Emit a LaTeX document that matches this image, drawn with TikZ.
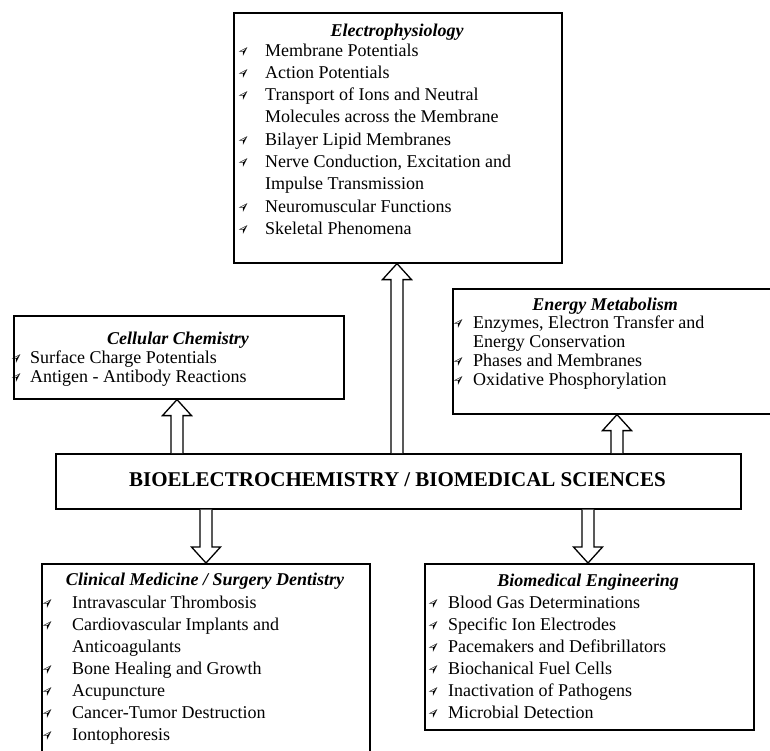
\documentclass[tikz,border=0pt]{standalone}
\usepackage{fontspec}
\usepackage{graphicx}
\setmainfont{Liberation Serif}
\newfontfamily\symf{DejaVu Sans}
\usetikzlibrary{calc}
\newcommand\bul[1]{\leavevmode\llap{\raisebox{1pt}{\symf\fontsize{14}{14}\selectfont\rotatebox[origin=c]{45}{➢}}\hspace{#1}}}
\newcommand\blkarrow[2]{\draw[blockarrow] let \p1=#1, \p2=#2, \p3=($#2!16pt!#1$) in
  (\x1-6pt,\y1) -- (\x1-6pt,\y3) -- (\x1-14.5pt,\y3) -- (\x2,\y2) -- (\x1+14.5pt,\y3) -- (\x1+6pt,\y3) -- (\x1+6pt,\y1);}
\tikzset{
  box/.style={draw=black, line width=1.6pt, rectangle, inner sep=0pt, anchor=north west, fill=white},
  ttl/.style={inner sep=0pt, anchor=base, font=\fontsize{18}{22}\selectfont\bfseries\itshape},
  lst/.style={inner sep=0pt, anchor=base west},
  blockarrow/.style={draw=black, line width=1.3pt, line join=miter, fill=white},
}
\begin{document}
\begin{tikzpicture}[x=1pt,y=-1pt]
\clip (0,0) rectangle (770,750);
\fill[white] (0,0) rectangle (770,750);

% boxes
\node[box, minimum width=328pt, minimum height=250pt] (ep) at (233,12) {};
\node[box, minimum width=330pt, minimum height=83pt] (cell) at (13,315) {};
\node[box, minimum width=340pt, minimum height=125pt] (en) at (452,288) {};
\node[box, minimum width=685pt, minimum height=55pt] (central) at (55,453) {};
\node[box, minimum width=328pt, minimum height=210pt] (clin) at (41,563) {};
\node[box, minimum width=329pt, minimum height=166pt] (bme) at (424,563) {};

% titles
\node[ttl] (ept) at (397,36) {Electrophysiology};
\node[ttl] (cellt) at (178,344) {Cellular Chemistry};
\node[ttl] (ent) at (605,310) {Energy Metabolism};
\node[ttl] (clint) at (205,585) {Clinical Medicine / Surgery Dentistry};
\node[ttl] (bmet) at (588,586) {Biomedical Engineering};
\node[inner sep=0pt, anchor=base, font=\fontsize{21}{24}\selectfont\bfseries] (centralt) at (397.5,486) {BIOELECTROCHEMISTRY / BIOMEDICAL SCIENCES};

% lists
\node[lst] (epl) at (265,56) {\begin{minipage}[t]{290pt}\raggedright\fontsize{18}{22.3}\selectfont
\bul{14pt}Membrane Potentials\\
\bul{14pt}Action Potentials\\
\bul{14pt}Transport of Ions and Neutral\\
Molecules across the Membrane\\
\bul{14pt}Bilayer Lipid Membranes\\
\bul{14pt}Nerve Conduction, Excitation and\\
Impulse Transmission\\
\bul{14pt}Neuromuscular Functions\\
\bul{14pt}Skeletal Phenomena\end{minipage}};

\node[lst] (celll) at (30,363) {\begin{minipage}[t]{300pt}\raggedright\fontsize{18}{19}\selectfont
\bul{6pt}Surface Charge Potentials\\
\bul{6pt}Antigen - Antibody Reactions\end{minipage}};

\node[lst] (enl) at (473,328) {\begin{minipage}[t]{290pt}\raggedright\fontsize{18}{19}\selectfont
\bul{7pt}Enzymes, Electron Transfer and\\
Energy Conservation\\
\bul{7pt}Phases and Membranes\\
\bul{7pt}Oxidative Phosphorylation\end{minipage}};

\node[lst] (clinl) at (72,608) {\begin{minipage}[t]{290pt}\raggedright\fontsize{18}{22}\selectfont
\bul{17pt}Intravascular Thrombosis\\
\bul{17pt}Cardiovascular Implants and\\
Anticoagulants\\
\bul{17pt}Bone Healing and Growth\\
\bul{17pt}Acupuncture\\
\bul{17pt}Cancer-Tumor Destruction\\
\bul{17pt}Iontophoresis\end{minipage}};

\node[lst] (bmel) at (448,608) {\begin{minipage}[t]{290pt}\raggedright\fontsize{18}{22}\selectfont
\bul{7pt}Blood Gas Determinations\\
\bul{7pt}Specific Ion Electrodes\\
\bul{7pt}Pacemakers and Defibrillators\\
\bul{7pt}Biochanical Fuel Cells\\
\bul{7pt}Inactivation of Pathogens\\
\bul{7pt}Microbial Detection\end{minipage}};

% arrow axes
\coordinate (a1) at (177,0);
\coordinate (a2) at (397,0);
\coordinate (a3) at (617,0);
\coordinate (a4) at (206,0);
\coordinate (a5) at (588,0);

\blkarrow{(central.north -| a1)}{(cell.south -| a1)}
\blkarrow{(central.north -| a2)}{(ep.south -| a2)}
\blkarrow{(central.north -| a3)}{(en.south -| a3)}
\blkarrow{(central.south -| a4)}{(clin.north -| a4)}
\blkarrow{(central.south -| a5)}{(bme.north -| a5)}
\end{tikzpicture}
\end{document}
